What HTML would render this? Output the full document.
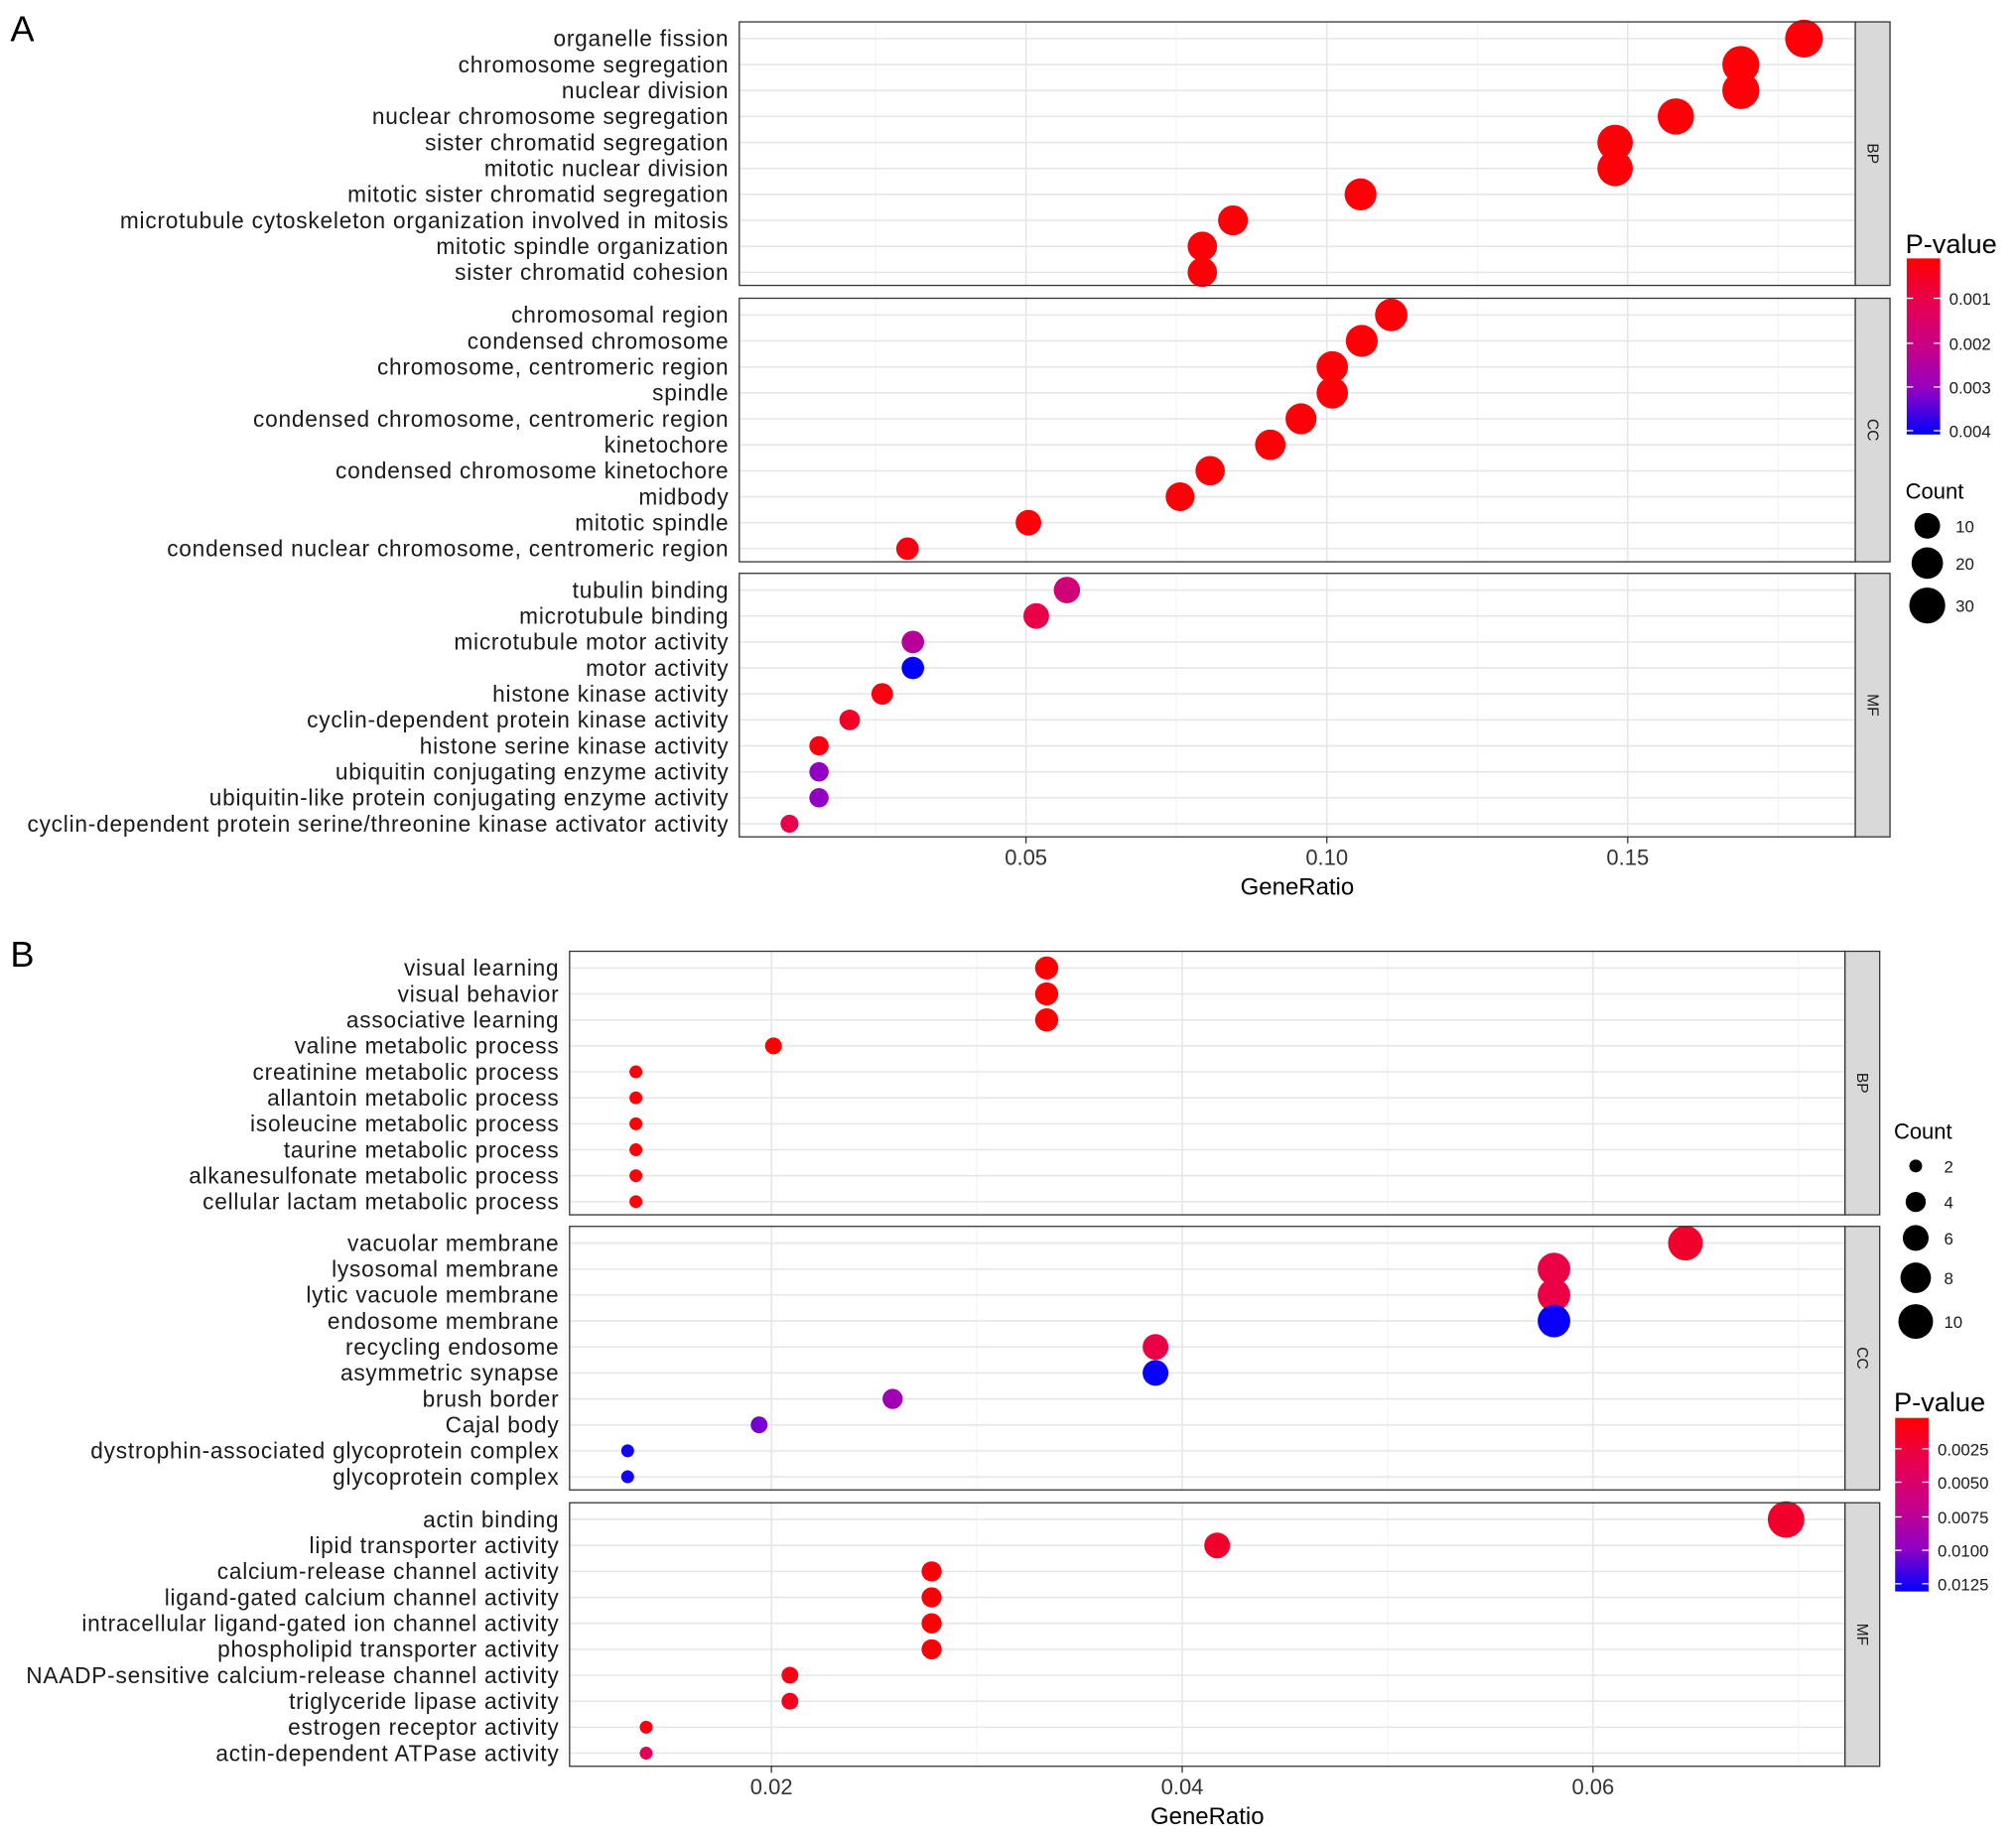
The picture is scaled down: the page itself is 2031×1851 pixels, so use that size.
<!DOCTYPE html>
<html><head><meta charset="utf-8"><style>
html,body{margin:0;padding:0;background:#fff}
svg{display:block}
text{font-family:"Liberation Sans",sans-serif}
</style></head><body>
<svg id="chart" width="2031" height="1851" viewBox="0 0 1568 1429" xmlns="http://www.w3.org/2000/svg"></svg>
<script>
// ---------- Panel A data ----------
const aTermsBP=["organelle fission","chromosome segregation","nuclear division","nuclear chromosome segregation","sister chromatid segregation","mitotic nuclear division","mitotic sister chromatid segregation","microtubule cytoskeleton organization involved in mitosis","mitotic spindle organization","sister chromatid cohesion"];
const aRatioBP=[0.1793,0.1688,0.1688,0.158,0.1479,0.1479,0.1056,0.0844,0.0793,0.0793];
const aCountBP=[35,33,33,31,29,29,21,17,16,16];
const aPBP=[0.0002,0.0002,0.0002,0.0002,0.0002,0.0002,0.0002,0.0002,0.0002,0.0002];
const aTermsCC=["chromosomal region","condensed chromosome","chromosome, centromeric region","spindle","condensed chromosome, centromeric region","kinetochore","condensed chromosome kinetochore","midbody","mitotic spindle","condensed nuclear chromosome, centromeric region"];
const aRatioCC=[0.1107,0.1058,0.1009,0.1009,0.0957,0.0906,0.0806,0.0756,0.0504,0.0303];
const aCountCC=[22,21,20,20,19,18,16,15,10,6];
const aPCC=[0.0002,0.0002,0.0002,0.0002,0.0002,0.0002,0.0002,0.0002,0.0002,0.0003];
const aTermsMF=["tubulin binding","microtubule binding","microtubule motor activity","motor activity","histone kinase activity","cyclin-dependent protein kinase activity","histone serine kinase activity","ubiquitin conjugating enzyme activity","ubiquitin-like protein conjugating enzyme activity","cyclin-dependent protein serine/threonine kinase activator activity"];
const aRatioMF=[0.0568,0.0517,0.0312,0.0312,0.0261,0.0207,0.0156,0.0156,0.0156,0.0107];
const aCountMF=[11,10,6,6,5,4,3,3,3,2];
const aPMF=[0.0018,0.001,0.0024,0.0042,0.0003,0.0006,0.0003,0.0031,0.0031,0.0011];
const aTicks=[0.05,0.10,0.15];
const aTickLabels=["0.05","0.10","0.15"];
// ---------- Panel B data ----------
const bTermsBP=["visual learning","visual behavior","associative learning","valine metabolic process","creatinine metabolic process","allantoin metabolic process","isoleucine metabolic process","taurine metabolic process","alkanesulfonate metabolic process","cellular lactam metabolic process"];
const bRatioBP=[0.0334,0.0334,0.0334,0.0201,0.0134,0.0134,0.0134,0.0134,0.0134,0.0134];
const bCountBP=[5,5,5,3,2,2,2,2,2,2];
const bPBP=[0.0003,0.0003,0.0003,0.0003,0.0004,0.0004,0.0004,0.0004,0.0004,0.0004];
const bTermsCC=["vacuolar membrane","lysosomal membrane","lytic vacuole membrane","endosome membrane","recycling endosome","asymmetric synapse","brush border","Cajal body","dystrophin-associated glycoprotein complex","glycoprotein complex"];
const bRatioCC=[0.0645,0.0581,0.0581,0.0581,0.0387,0.0387,0.0259,0.0194,0.013,0.013];
const bCountCC=[10,9,9,9,6,6,4,3,2,2];
const bPCC=[0.002,0.003,0.003,0.0129,0.003,0.0129,0.009,0.0105,0.0127,0.0127];
const bTermsMF=["actin binding","lipid transporter activity","calcium-release channel activity","ligand-gated calcium channel activity","intracellular ligand-gated ion channel activity","phospholipid transporter activity","NAADP-sensitive calcium-release channel activity","triglyceride lipase activity","estrogen receptor activity","actin-dependent ATPase activity"];
const bRatioMF=[0.0694,0.0417,0.0278,0.0278,0.0278,0.0278,0.0209,0.0209,0.0139,0.0139];
const bCountMF=[11,6,4,4,4,4,3,3,2,2];
const bPMF=[0.002,0.002,0.0005,0.0005,0.0005,0.0005,0.001,0.0015,0.001,0.004];
const bTicks=[0.02,0.04,0.06];
const bTickLabels=["0.02","0.04","0.06"];

const NS="http://www.w3.org/2000/svg";
const svg=document.getElementById('chart');
function mk(tag,attrs,parent){const e=document.createElementNS(NS,tag);for(const k in attrs)e.setAttribute(k,attrs[k]);(parent||svg).appendChild(e);return e;}
function txt(s,attrs){const e=mk('text',attrs);e.textContent=s;return e;}
const stops=[[255,0,0],[232,0,79],[200,0,135],[145,0,195],[0,0,255]];
function col(t){t=Math.max(0,Math.min(1,t));const f=t*4,i=Math.min(3,Math.floor(f)),u=f-i;const a=stops[i],b=stops[i+1];return 'rgb('+a.map((v,k)=>Math.round(v+(b[k]-v)*u)).join(',')+')';}

function panel(cfg){
  const xs=v=>cfg.x0+(v-cfg.v0)*cfg.k;
  cfg.facets.forEach((f,fi)=>{
    const top=cfg.tops[fi],h=cfg.h;
    const bg=mk('rect',{x:cfg.left,y:top,width:cfg.right-cfg.left,height:h,fill:'#fff'});
    
    
    cfg.minor.forEach(v=>mk('line',{x1:xs(v),x2:xs(v),y1:top,y2:top+h,stroke:'#f2f2f2','stroke-width':0.8}));
    cfg.ticks.forEach(v=>mk('line',{x1:xs(v),x2:xs(v),y1:top,y2:top+h,stroke:'#e6e6e6','stroke-width':1.2}));
    f.terms.forEach((t,i)=>{
      const y=top+13+i*20.2;
      mk('line',{x1:cfg.left,x2:cfg.right,y1:y,y2:y,stroke:'#e6e6e6','stroke-width':1.2});
      const lb=txt(t,{x:cfg.left-8,y:y+6,'font-size':17.5,'letter-spacing':0.6,'text-anchor':'end',fill:'#1a1a1a'});
      
      
    });
    f.terms.forEach((t,i)=>{
      const y=top+13+i*20.2;
      const p=(f.p[i]-cfg.pmin)/(cfg.pmax-cfg.pmin);
      const c=mk('circle',{cx:xs(f.ratio[i]),cy:y,r:cfg.rad(f.count[i]),fill:col(p)});
      
      
    });
    mk('rect',{x:cfg.left,y:top,width:cfg.right-cfg.left,height:h,fill:'none',stroke:'#333','stroke-width':1});
    const st=mk('rect',{x:cfg.right,y:top,width:27,height:h,fill:'#d9d9d9',stroke:'#333','stroke-width':1});
    
    
    const sy=top+h/2,sx=cfg.right+13.5;
    const s=txt(f.name,{x:sx,y:sy,'font-size':12,'text-anchor':'middle',fill:'#1a1a1a',transform:'rotate(90 '+sx+' '+sy+')',dy:4});
    
    
  });
  const bot=cfg.tops[2]+cfg.h;
  cfg.ticks.forEach((v,i)=>{
    mk('line',{x1:xs(v),x2:xs(v),y1:bot,y2:bot+5,stroke:'#333'});
    const t=txt(cfg.tickLabels[i],{x:xs(v),y:bot+22,'font-size':17,'text-anchor':'middle',fill:'#333'});
    
    
  });
  const xt=txt('GeneRatio',{x:(cfg.left+cfg.right)/2,y:bot+45,'font-size':18.5,'text-anchor':'middle',fill:'#000'});
  
  
}

const ra=c=>1.72*Math.sqrt(c)+4.55;
const rb=c=>4.86*Math.sqrt(c)-1.87;
panel({id:'panel-a',left:575,right:1443,x0:798,v0:0.05,k:4680,tops:[17,232,446],h:205,
  ticks:aTicks,tickLabels:aTickLabels,minor:[0.025,0.075,0.125,0.175],pmin:0.0001,pmax:0.0041,rad:ra,
  facets:[{name:'BP',terms:aTermsBP,ratio:aRatioBP,count:aCountBP,p:aPBP},{name:'CC',terms:aTermsCC,ratio:aRatioCC,count:aCountCC,p:aPCC},{name:'MF',terms:aTermsMF,ratio:aRatioMF,count:aCountMF,p:aPMF}]});
panel({id:'panel-b',left:443,right:1435,x0:600,v0:0.02,k:15975,tops:[740,954,1169],h:205,
  ticks:bTicks,tickLabels:bTickLabels,minor:[0.01,0.03,0.05,0.07],pmin:0.0002,pmax:0.0131,rad:rb,
  facets:[{name:'BP',terms:bTermsBP,ratio:bRatioBP,count:bCountBP,p:bPBP},{name:'CC',terms:bTermsCC,ratio:bRatioCC,count:bCountCC,p:bPCC},{name:'MF',terms:bTermsMF,ratio:bRatioMF,count:bCountMF,p:bPMF}]});

// panel letters
let L=txt('A',{x:8,y:32,'font-size':28,fill:'#000'});


L=txt('B',{x:8,y:752,'font-size':28,fill:'#000'});



// legends
const defs=mk('defs',{});
const g=mk('linearGradient',{id:'pg',x1:0,y1:0,x2:0,y2:1},defs);
stops.forEach((s,i)=>mk('stop',{offset:(i/4),'stop-color':'rgb('+s.join(',')+')'},g));

function colorbar(id,x,top,bot,titleY,labels,ys){
  const t=txt('P-value',{x:x-1,y:titleY,'font-size':21,fill:'#000'});
  
  
  const r=mk('rect',{x:x,y:top,width:26,height:bot-top,fill:'url(#pg)'});
  
  
  labels.forEach((l,i)=>{
    mk('line',{x1:x,x2:x+5,y1:ys[i],y2:ys[i],stroke:'#fff'});
    mk('line',{x1:x+21,x2:x+26,y1:ys[i],y2:ys[i],stroke:'#fff'});
    const e=txt(l,{x:x+33,y:ys[i]+5,'font-size':13,fill:'#1a1a1a'});
    
    
  });
}
function sizeLegend(id,x,titleY,counts,ys,rad){
  const t=txt('Count',{x:x-1,y:titleY,'font-size':17,fill:'#000'});
  
  
  counts.forEach((c,i)=>{
    const e=mk('circle',{cx:x+16,cy:ys[i],r:rad(c),fill:'#000'});
    
    
    const l=txt(String(c),{x:x+38,y:ys[i]+5,'font-size':13,fill:'#1a1a1a'});
    
    
  });
}
colorbar('panel-a',1483,201,338,197,["0.001","0.002","0.003","0.004"],[232,267,301,335]);
sizeLegend('panel-a',1483,388,[10,20,30],[409,438,471],ra);
sizeLegend('panel-b',1474,886,[2,4,6,8,10],[907,935,963,994,1028],rb);
colorbar('panel-b',1474,1103,1238,1098,["0.0025","0.0050","0.0075","0.0100","0.0125"],[1127,1153,1180,1206,1232]);
</script>
</body></html>
